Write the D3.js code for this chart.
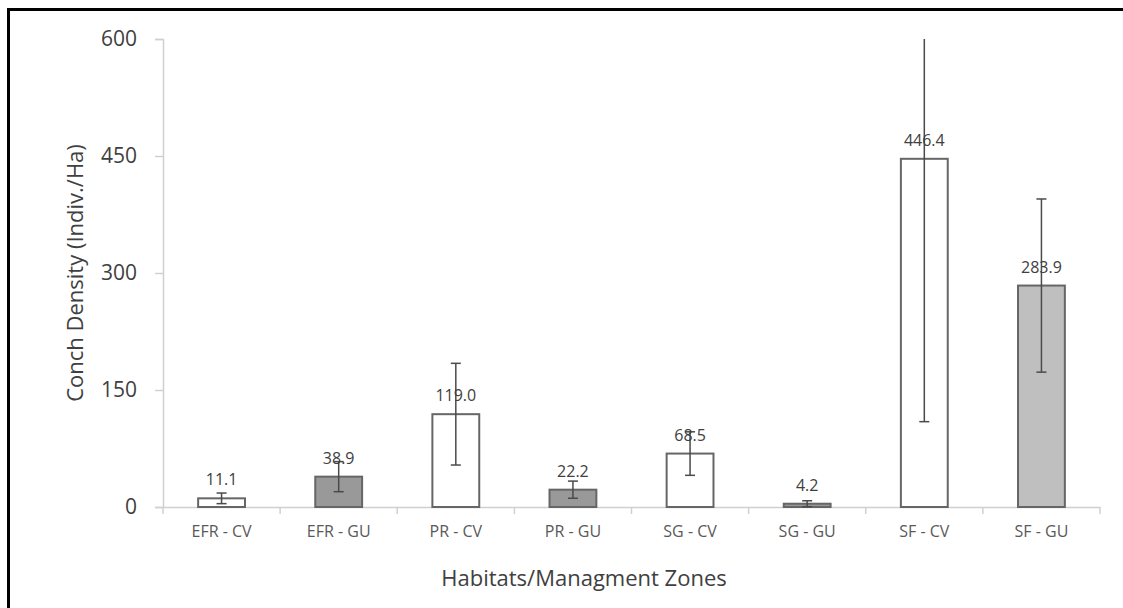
<!DOCTYPE html>
<html>
<head>
<meta charset="utf-8">
<script src="https://cdn.jsdelivr.net/npm/d3@7"></script>
<style>
  body { margin: 0; background: #fff; }
  text { font-family: "Open Sans", "Noto Sans", sans-serif; }
</style>
</head>
<body>
<script>
// values
var zones = ["EFR - CV", "EFR - GU", "PR - CV", "PR - GU", "SG - CV", "SG - GU", "SF - CV", "SF - GU"];
var density = [11.1, 38.9, 119.0, 22.2, 68.5, 4.2, 446.4, 283.9];
var errors = [6.8, 19.3, 65.2, 11.0, 27.9, 3.8, 337.0, 111.0];
var fills = ["#ffffff", "#999999", "#ffffff", "#999999", "#ffffff", "#999999", "#ffffff", "#bfbfbf"];
var yTicks = [0, 150, 300, 450, 600];

var width = 1123, height = 608;
var margin = {left: 163, right: 23, top: 39, bottom: 101};

var svg = d3.select("body").append("svg")
            .attr("width", width)
            .attr("height", height);

// frame (left and top edges only show in the picture)
svg.append("line").attr("x1", 8.5).attr("x2", 8.5).attr("y1", 8).attr("y2", height)
   .attr("stroke", "#000").attr("stroke-width", 3);
svg.append("line").attr("x1", 7).attr("x2", width).attr("y1", 9.5).attr("y2", 9.5)
   .attr("stroke", "#000").attr("stroke-width", 3);

var x = d3.scaleBand()
          .domain(zones)
          .range([margin.left, width - margin.right])
          .paddingInner(0.6)
          .paddingOuter(0.3);

var y = d3.scaleLinear()
          .domain([0, 600])
          .range([height - margin.bottom, margin.top]);

var xAxis = d3.axisBottom(x).tickSize(0).tickPadding(19);
var yAxis = d3.axisLeft(y).tickValues(yTicks).tickSize(8).tickPadding(18);

var gy = svg.append("g")
            .attr("transform", "translate(" + margin.left + ",0)")
            .call(yAxis);
gy.selectAll("path, line").attr("stroke", "#d0d0d0").attr("stroke-width", 1.5);
gy.selectAll("text").attr("font-size", 21).attr("fill", "#404040");

var gx = svg.append("g")
            .attr("transform", "translate(0," + y(0) + ")")
            .call(xAxis);
gx.select("path").attr("stroke", "#d0d0d0").attr("stroke-width", 1.5);
gx.selectAll("text").attr("font-size", 16).attr("fill", "#595959");

// category separators under the axis
gx.selectAll(".sep")
  .data(d3.range(zones.length + 1))
  .enter().append("line")
  .attr("x1", function(d){ return x.range()[0] + d * (x.range()[1] - x.range()[0]) / zones.length; })
  .attr("x2", function(d){ return x.range()[0] + d * (x.range()[1] - x.range()[0]) / zones.length; })
  .attr("y1", 0).attr("y2", 7)
  .attr("stroke", "#d0d0d0").attr("stroke-width", 1.5);

var bars = svg.append("g");

bars.selectAll("rect")
    .data(zones)
    .enter().append("rect")
    .attr("x", function(d){ return x(d); })
    .attr("width", x.bandwidth())
    .attr("y", function(d, i){ return y(density[i]); })
    .attr("height", function(d, i){ return y(0) - y(density[i]); })
    .attr("fill", function(d, i){ return fills[i]; })
    .attr("stroke", "#666")
    .attr("stroke-width", 2);

var errG = svg.append("g").attr("stroke", "#4a4a4a").attr("stroke-width", 1.5);

zones.forEach(function(z, i) {
  var cx = x(z) + x.bandwidth() / 2;
  var hi = Math.min(density[i] + errors[i], 600);
  var lo = density[i] - errors[i];
  errG.append("line").attr("x1", cx).attr("x2", cx)
      .attr("y1", y(hi)).attr("y2", y(lo));
  errG.append("line").attr("x1", cx - 5).attr("x2", cx + 5)
      .attr("y1", y(lo)).attr("y2", y(lo));
  if (density[i] + errors[i] <= 600) {
    errG.append("line").attr("x1", cx - 5).attr("x2", cx + 5)
        .attr("y1", y(hi)).attr("y2", y(hi));
  }
});

svg.append("g").selectAll("text")
   .data(zones)
   .enter().append("text")
   .attr("x", function(d){ return x(d) + x.bandwidth() / 2; })
   .attr("y", function(d, i){ return y(density[i]) - 13; })
   .attr("text-anchor", "middle")
   .attr("font-size", 16)
   .attr("fill", "#404040")
   .text(function(d, i){ return density[i].toFixed(1); });

svg.append("text")
   .attr("transform", "translate(83," + ((y(0) + y(600)) / 2) + ") rotate(-90)")
   .attr("text-anchor", "middle")
   .attr("font-size", 22)
   .attr("fill", "#404040")
   .text("Conch Density (Indiv./Ha)");

svg.append("text")
   .attr("x", 584)
   .attr("y", 586)
   .attr("text-anchor", "middle")
   .attr("font-size", 22)
   .attr("fill", "#404040")
   .text("Habitats/Managment Zones");
</script>
</body>
</html>
